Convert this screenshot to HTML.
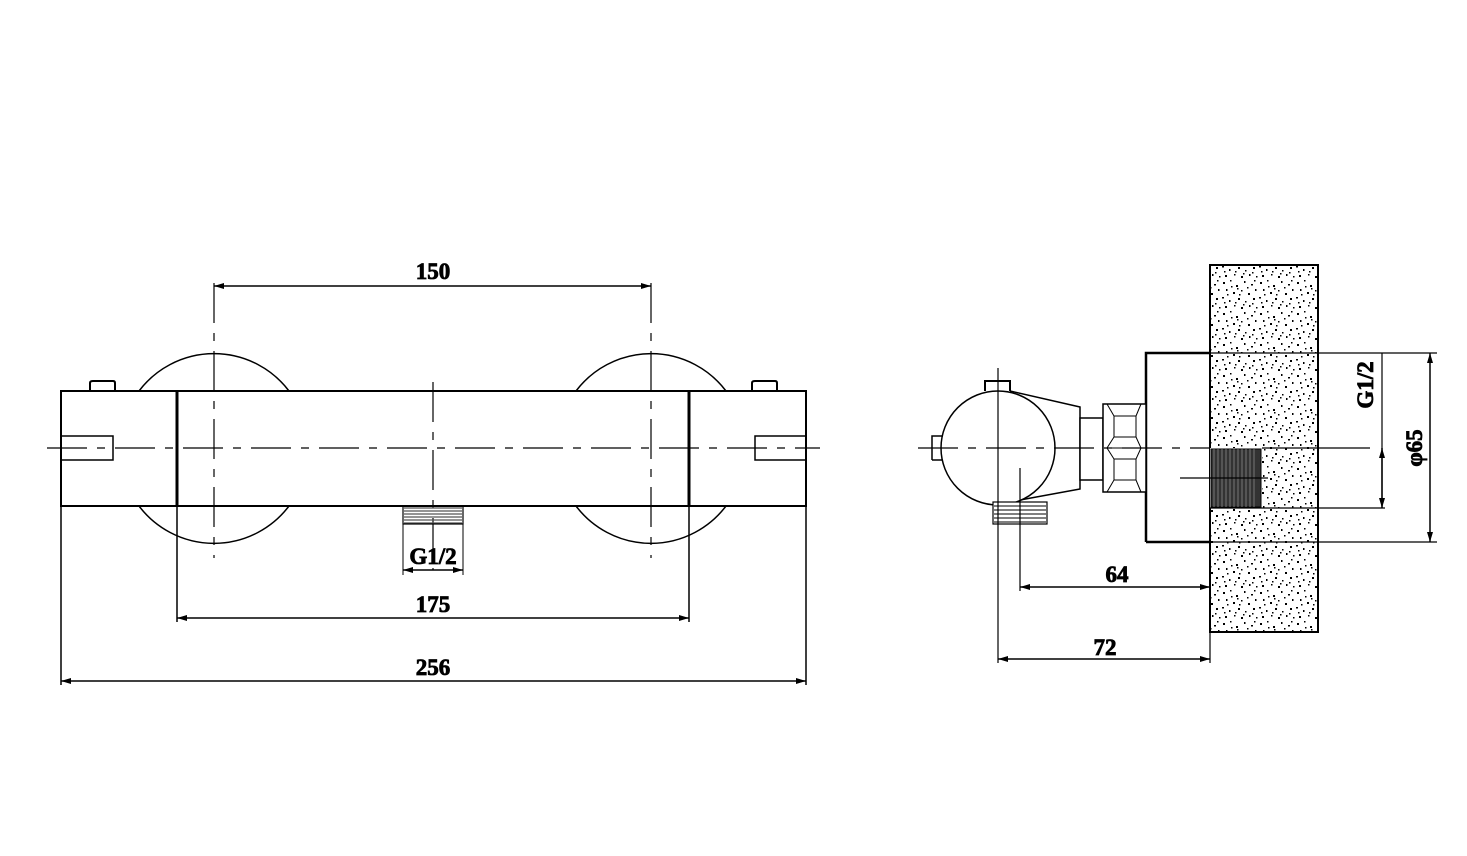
<!DOCTYPE html>
<html><head><meta charset="utf-8"><style>html,body{margin:0;padding:0;background:#fff}svg{display:block}</style></head>
<body>
<svg width="1467" height="856" viewBox="0 0 1467 856" xmlns="http://www.w3.org/2000/svg">
<defs>
<pattern id="st" width="37" height="31" patternUnits="userSpaceOnUse">
<g fill="#000">
<rect x="2" y="3" width="2" height="2"/><rect x="9" y="1" width="1.5" height="1.5"/><rect x="15" y="6" width="2" height="2"/><rect x="23" y="2" width="1.5" height="2"/><rect x="30" y="5" width="2" height="1.5"/>
<rect x="5" y="10" width="1.5" height="2"/><rect x="12" y="13" width="2" height="2"/><rect x="20" y="11" width="1.5" height="1.5"/><rect x="27" y="14" width="2" height="2"/><rect x="34" y="10" width="1.5" height="2"/>
<rect x="1" y="18" width="2" height="1.5"/><rect x="8" y="21" width="1.5" height="2"/><rect x="17" y="19" width="2" height="2"/><rect x="24" y="22" width="1.5" height="1.5"/><rect x="32" y="19" width="2" height="2"/>
<rect x="4" y="27" width="2" height="2"/><rect x="13" y="26" width="1.5" height="1.5"/><rect x="20" y="28" width="2" height="2"/><rect x="28" y="26" width="1.5" height="2"/><rect x="35" y="28" width="1.5" height="1.5"/>
<rect x="10" y="7" width="1.5" height="1.5"/><rect x="26" y="8" width="1.5" height="1.5"/><rect x="18" y="15" width="1.5" height="1.5"/>
<rect x="6" y="15" width="1.5" height="1.5"/><rect x="31" y="24" width="1.5" height="1.5"/><rect x="22" y="25" width="1.5" height="1.5"/><rect x="14" y="23" width="1.5" height="1.5"/><rect x="3" y="23" width="1.5" height="1.5"/><rect x="33" y="1" width="1.5" height="1.5"/><rect x="16" y="9" width="1.5" height="1.5"/>
</g>
</pattern>
<marker id="a" viewBox="0 0 10 6" refX="10" refY="3" markerWidth="16" markerHeight="6" markerUnits="userSpaceOnUse" orient="auto-start-reverse"><path d="M0,0L10,3L0,6z" fill="#000"/></marker>
</defs>
<g stroke="#000" fill="none" stroke-width="1.5" font-family="Liberation Serif, serif">
<path d="M139,391 A94,94 0 0 1 289,391"/><path d="M139,506 A94,94 0 0 0 289,506"/>
<path d="M576,391 A94,94 0 0 1 726,391"/><path d="M576,506 A94,94 0 0 0 726,506"/>
<rect x="61" y="391" width="745" height="115" stroke-width="2" fill="#fff"/>
<line x1="177" y1="391" x2="177" y2="506" stroke-width="3"/>
<line x1="689" y1="391" x2="689" y2="506" stroke-width="3"/>
<path d="M90,391 V383 Q90,381 93,381 H113 Q115,381 115,383 V391" stroke-width="2"/>
<path d="M752,391 V383 Q752,381 755,381 H775 Q777,381 777,383 V391" stroke-width="2"/>
<rect x="61" y="436" width="52" height="24"/>
<rect x="755" y="436" width="51" height="24"/>
<line x1="47" y1="448" x2="820" y2="448" stroke-dasharray="40,10,8,10" stroke-width="1.2"/>
<line x1="214" y1="283" x2="214" y2="558" stroke-dasharray="40,10,8,10" stroke-width="1.2"/>
<line x1="651" y1="283" x2="651" y2="558" stroke-dasharray="40,10,8,10" stroke-width="1.2"/>
<line x1="433" y1="382" x2="433" y2="570" stroke-dasharray="40,10,8,10" stroke-width="1.2"/>
<g stroke-width="1.2"><path d="M404,508H462M404,511H462M404,514H462M404,517H462M404,520H462M404,523H462" stroke="#555"/></g>
<rect x="403" y="506" width="60" height="18" stroke-width="1.2"/>
<line x1="403" y1="524" x2="403" y2="575" stroke-width="1"/><line x1="463" y1="524" x2="463" y2="575" stroke-width="1"/>
<line x1="403" y1="570" x2="463" y2="570" marker-start="url(#a)" marker-end="url(#a)"/>
<line x1="214" y1="286" x2="651" y2="286" marker-start="url(#a)" marker-end="url(#a)"/>
<line x1="61" y1="506" x2="61" y2="685"/><line x1="806" y1="506" x2="806" y2="685"/>
<line x1="177" y1="506" x2="177" y2="622"/><line x1="689" y1="506" x2="689" y2="622"/>
<line x1="177" y1="618" x2="689" y2="618" marker-start="url(#a)" marker-end="url(#a)"/>
<line x1="61" y1="681" x2="806" y2="681" marker-start="url(#a)" marker-end="url(#a)"/>
<g stroke="#000" stroke-width="0.8" fill="#000" font-weight="bold" font-size="23" text-anchor="middle">
<text x="433" y="279">150</text><text x="433" y="564">G1/2</text><text x="433" y="612">175</text><text x="433" y="675">256</text>
<text x="1117" y="582">64</text><text x="1105" y="655">72</text>
<text transform="translate(1373,385) rotate(-90)">G1/2</text>
<text transform="translate(1422,448) rotate(-90)">&#966;65</text>
</g>
<rect x="1210" y="265" width="108" height="367" fill="url(#st)" stroke-width="2"/>
<rect x="1210" y="448" width="52" height="60" fill="#fff" stroke="none"/>
<rect x="1211" y="449" width="50" height="58" fill="#333" stroke="#000" stroke-width="1"/>
<path d="M1214,449V507M1218,449V507M1222,449V507M1226,449V507M1230,449V507M1234,449V507M1238,449V507M1242,449V507M1246,449V507M1250,449V507M1254,449V507" stroke="#777" stroke-width="1"/>
<path d="M1146,542V353H1210M1146,542H1210" stroke-width="2.5"/>
<line x1="1210" y1="353" x2="1437" y2="353" stroke-width="1.2"/>
<line x1="1210" y1="542" x2="1437" y2="542" stroke-width="1.2"/>
<line x1="1262" y1="448" x2="1370" y2="448" stroke-width="1.2"/>
<line x1="1210" y1="508" x2="1385" y2="508" stroke-width="1.2"/>
<line x1="1180" y1="478" x2="1268" y2="478" stroke-width="1.2"/>
<line x1="1430" y1="353" x2="1430" y2="542" marker-start="url(#a)" marker-end="url(#a)"/>
<line x1="1382" y1="353" x2="1382" y2="508" stroke-width="1.2"/>
<line x1="1382" y1="448" x2="1382" y2="508" marker-start="url(#a)" marker-end="url(#a)"/>
<path d="M1010,391 L1080,407 V489 L1020,500" stroke-width="1.5" fill="#fff"/>
<circle cx="998" cy="448" r="57" fill="#fff"/>
<path d="M932,460V436H943M932,460H943"/>
<path d="M985,391V381H1010V391" stroke-width="2"/>
<rect x="1080" y="418" width="23" height="62" fill="#fff"/>
<rect x="1103" y="404" width="43" height="88" fill="#fff"/>
<path d="M1107,404L1114,416V437L1107,448L1114,459V480L1107,492M1141,404L1136,416V437L1141,448L1136,459V480L1141,492M1114,416H1136M1114,437H1136M1107,448H1141M1114,459H1136M1114,480H1136" stroke-width="1"/>
<rect x="993" y="502" width="54" height="22" fill="#fff" stroke-width="1.2"/>
<path d="M994,506H1046M994,510H1046M994,514H1046M994,518H1046M994,522H1046" stroke="#555"/>
<line x1="918" y1="448" x2="1210" y2="448" stroke-dasharray="40,10,8,10" stroke-width="1.2"/>
<line x1="998" y1="368" x2="998" y2="663" stroke-width="1.2"/>
<line x1="1020" y1="468" x2="1020" y2="591" stroke-width="1.2"/>
<line x1="1210" y1="542" x2="1210" y2="663" stroke-width="1.2"/>
<line x1="1020" y1="587" x2="1210" y2="587" marker-start="url(#a)" marker-end="url(#a)"/>
<line x1="998" y1="659" x2="1210" y2="659" marker-start="url(#a)" marker-end="url(#a)"/>
</g>
</svg>
</body></html>
